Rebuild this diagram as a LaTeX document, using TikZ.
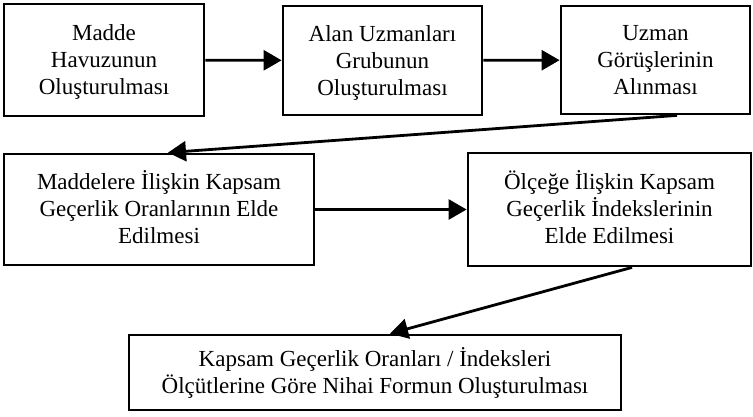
\documentclass[tikz,border=0pt]{standalone}
\usepackage{fontspec}
\setmainfont{Liberation Serif}
\usetikzlibrary{arrows.meta}
\tikzset{
  stage/.style={draw,line width=2.8pt,align=center,inner sep=0pt,text depth=0pt,font=\fontsize{23}{27}\selectfont},
  flow/.style={line width=2.8pt,-{Triangle[length=18pt,width=20pt]}}
}
\begin{document}
\begin{tikzpicture}[x=1pt,y=-1pt]
    \useasboundingbox (0,0) rectangle (753,416);
    \node[stage,minimum width=200pt,minimum height=112pt] (havuz) at (104,60) {Madde\\Havuzunun\\Oluşturulması};
    \node[stage,minimum width=199pt,minimum height=109pt] (grup) at (382.5,60.5) {Alan Uzmanları\\Grubunun\\Oluşturulması};
    \node[stage,minimum width=189pt,minimum height=108pt] (gorus) at (655.5,60) {Uzman\\Görüşlerinin\\Alınması};
    \node[stage,text depth=5pt,minimum width=310pt,minimum height=111pt] (oran) at (159,209.5) {Maddelere İlişkin Kapsam\\Geçerlik Oranlarının Elde\\Edilmesi};
    \node[stage,text depth=5pt,minimum width=283pt,minimum height=113pt] (indeks) at (609.5,209.5) {Ölçeğe İlişkin Kapsam\\Geçerlik İndekslerinin\\Elde Edilmesi};
    \node[stage,text depth=3pt,minimum width=492pt,minimum height=75pt] (form) at (375,372.5) {Kapsam Geçerlik Oranları / İndeksleri\\Ölçütlerine Göre Nihai Formun Oluşturulması};
    \draw[flow] (havuz) -- (grup);
    \draw[flow] (grup) -- (gorus);
    \draw[flow] ([xshift=21.5pt]gorus.south) -- ([xshift=9pt]oran.north);
    \draw[flow] (oran) -- (indeks);
    \draw[flow] ([xshift=22.5pt]indeks.south) -- ([xshift=15pt]form.north);
  \end{tikzpicture}
\end{document}
